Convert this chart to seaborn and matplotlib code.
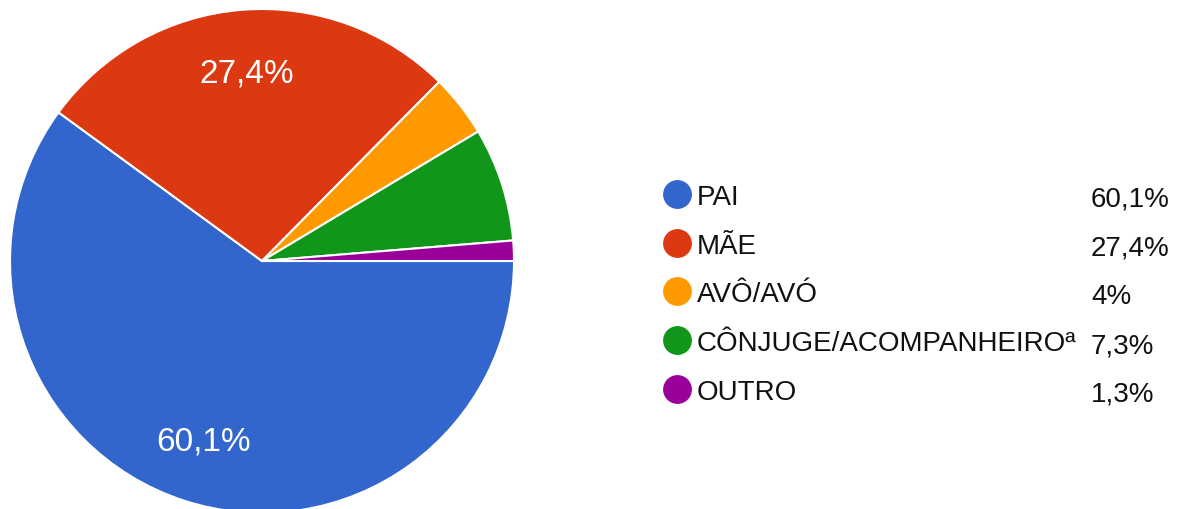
import matplotlib
matplotlib.use("Agg")
import matplotlib.pyplot as plt
import seaborn as sns

categorias = ["PAI", "MÃE", "AVÔ/AVÓ", "CÔNJUGE/ACOMPANHEIROª", "OUTRO"]
valores = [60.1, 27.4, 4.0, 7.3, 1.3]
rotulos_pct = ["60,1%", "27,4%", "4%", "7,3%", "1,3%"]
cores = ["#3366cc", "#dc3912", "#ff9900", "#109618", "#990099"]

sns.set_theme(style="white")
plt.rcParams["font.family"] = ["Liberation Sans", "DejaVu Sans"]

W, H = 1183, 510
fig = plt.figure(figsize=(W / 100, H / 100), dpi=100)

# pizza: centro ~ (262, 262) px, raio ~ 252 px
cx, cy, r = 262, 262, 252
ax = fig.add_axes([(cx - r) / W, (H - cy - r) / H, 2 * r / W, 2 * r / H])

# so mostra o rotulo dentro das fatias grandes
rotulos_fatia = iter([t if v > 10 else "" for t, v in zip(rotulos_pct, valores)])
wedges, _, autotexts = ax.pie(
    valores,
    colors=sns.color_palette(cores),
    startangle=0,
    counterclock=False,
    autopct=lambda p: next(rotulos_fatia),
    pctdistance=0.75,
    wedgeprops=dict(edgecolor="white", linewidth=1.5),
    textprops=dict(color="white", fontsize=24),
    radius=1,
)
ax.set_xlim(-1, 1)
ax.set_ylim(-1, 1)
ax.set_aspect("equal")

# legenda desenhada a mao
lg = fig.add_axes([0, 0, 1, 1])
lg.set_xlim(0, W)
lg.set_ylim(H, 0)
lg.axis("off")
y0, dy = 195, 48.7
for i, (cat, pct, cor) in enumerate(zip(categorias, rotulos_pct, cores)):
    y = y0 + i * dy
    lg.scatter(677, y, s=390, color=cor, zorder=3)
    lg.text(697, y + 10, cat, fontsize=20, va="baseline", ha="left", color="#111111")
    lg.text(1091, y + 12, pct, fontsize=20, va="baseline", ha="left", color="#111111")

fig.savefig("out.png", dpi=100, facecolor="white")
